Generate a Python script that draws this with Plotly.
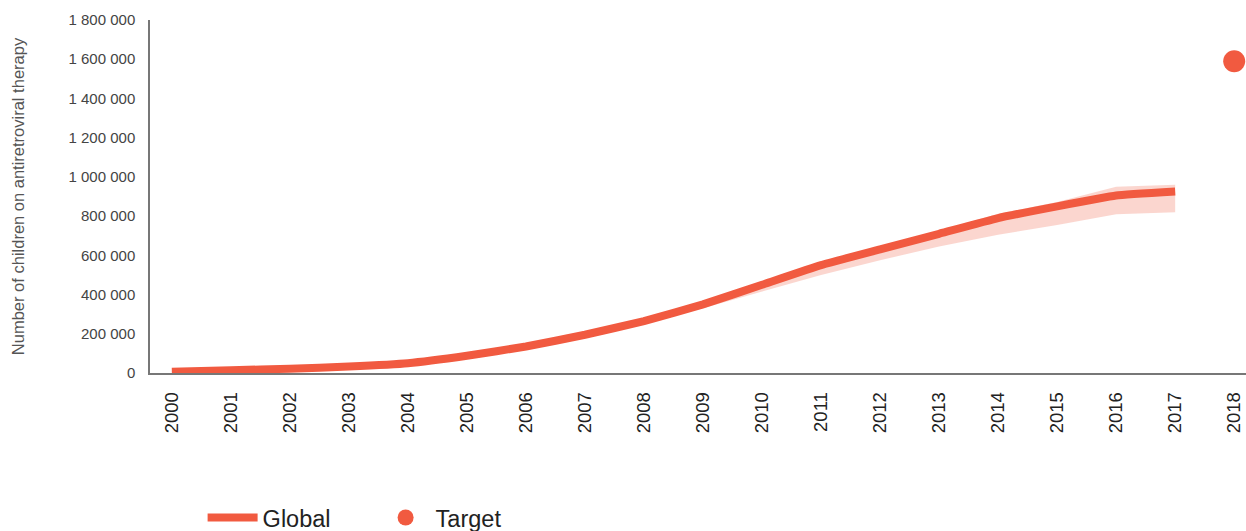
import plotly.graph_objects as go

years = list(range(2000, 2018))
global_values = [7000, 14000, 22000, 33000, 50000, 88000, 135000, 195000, 265000,
                 350000, 450000, 550000, 630000, 710000, 790000, 850000, 905000, 925000]
lower_bound = [5000, 12000, 20000, 31000, 47000, 84000, 130000, 188000, 255000,
               330000, 415000, 500000, 575000, 645000, 705000, 755000, 810000, 820000]
upper_bound = [9000, 16000, 24000, 35000, 53000, 91000, 140000, 200000, 270000,
               357000, 458000, 560000, 642000, 725000, 812000, 872000, 950000, 960000]
target_year = [2018]
target_value = [1590000]

x_ticks = list(range(2000, 2019))
x_labels = [str(y) for y in x_ticks]
y_ticks = [0, 200000, 400000, 600000, 800000, 1000000, 1200000, 1400000, 1600000, 1800000]
y_labels = ["0", "200 000", "400 000", "600 000", "800 000", "1 000 000",
            "1 200 000", "1 400 000", "1 600 000", "1 800 000"]

RED = "#F15A40"

fig = go.Figure()
fig.add_trace(go.Scatter(x=years, y=upper_bound, mode="lines", line=dict(width=0),
                         showlegend=False, hoverinfo="skip"))
fig.add_trace(go.Scatter(x=years, y=lower_bound, mode="lines", line=dict(width=0),
                         fill="tonexty", fillcolor="rgba(241,90,64,0.25)",
                         showlegend=False, hoverinfo="skip"))
fig.add_trace(go.Scatter(x=years, y=global_values, mode="lines", name="Global",
                         line=dict(color=RED, width=8, shape="spline", smoothing=0.3)))
fig.add_trace(go.Scatter(x=target_year, y=target_value, mode="markers", name="Target",
                         marker=dict(color=RED, size=22)))

fig.update_layout(
    width=1246, height=531,
    margin=dict(l=150, r=0, t=20, b=158, autoexpand=False),
    paper_bgcolor="white", plot_bgcolor="white",
    font=dict(family="Liberation Sans, Arial, sans-serif", color="#333"),
    legend=dict(orientation="h", x=0.048, xanchor="left",
                yref="container", y=0.025, yanchor="middle",
                traceorder="normal", font=dict(size=23.5, color="#222"),
                itemwidth=50, entrywidth=108, tracegroupgap=0),
    xaxis=dict(range=[1999.63, 2018.2], tickmode="array", tickvals=x_ticks,
               ticktext=x_labels, tickangle=-90, tickfont=dict(size=18.5, color="#222"),
               showgrid=False, zeroline=False, showline=True, linecolor="#777",
               linewidth=1.5, ticks="", ticklabelstandoff=10,
               ticklabeloverflow="allow", automargin=False),
    yaxis=dict(range=[0, 1800000], tickmode="array", tickvals=y_ticks,
               ticktext=y_labels, tickfont=dict(size=15, color="#444"),
               showgrid=False, zeroline=False, showline=True, linecolor="#777",
               linewidth=1.5, ticks="", ticklabelstandoff=10, automargin=False,
               title=dict(text="Number of children on antiretroviral therapy",
                          font=dict(size=16.5, color="#555"), standoff=40)),
)

fig.write_html("out.html", config={"displayModeBar": False},
               post_script="document.body.style.margin='0';document.body.style.overflow='hidden';")
